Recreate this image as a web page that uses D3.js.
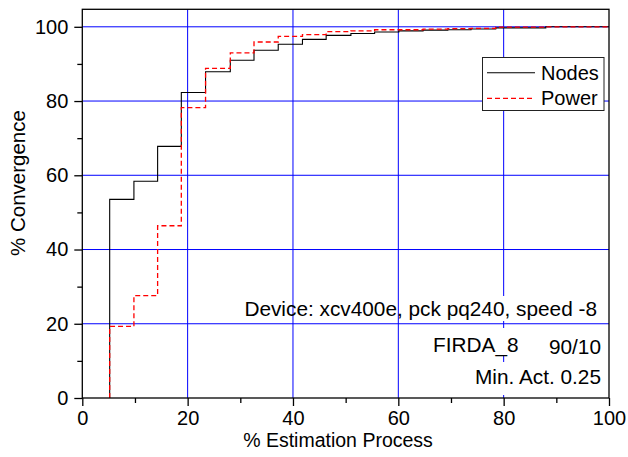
<!DOCTYPE html>
<html lang="en">
<head>
<meta charset="utf-8" />
<script src="https://d3js.org/d3.v7.min.js"></script>
<style>
  body { margin: 0; background: #fff; }
  text { font-family: Arial, "Liberation Sans", sans-serif; fill: #000; }
</style>
</head>
<body>
<script>
// step positions (% estimation process) and the value held from each one on
const stepX   = [5.2, 9.8, 14.3, 18.8, 23.4, 28.1, 32.6, 37.2, 41.8, 46.3, 51.0, 55.5, 60.1, 64.7, 69.4, 73.8, 78.5, 88.0, 100];
const nodesY  = [53.5, 58.4, 67.8, 82.3, 87.9, 91.0, 93.7, 95.3, 96.6, 97.7, 98.2, 98.6, 98.9, 99.1, 99.2, 99.4, 99.7, 100, 100];
const powerY  = [19.3, 27.6, 46.4, 78.2, 88.8, 93.0, 95.9, 97.4, 97.9, 98.7, 98.9, 99.2, 99.2, 99.4, 99.5, 99.6, 99.9, 100, 100];
const xTicks = [0, 20, 40, 60, 80, 100];
const yTicks = [0, 20, 40, 60, 80, 100];
const minorTicks = [10, 30, 50, 70, 90];
const seriesNames = ["Nodes", "Power"];
const notes = ["Device: xcv400e, pck pq240, speed -8", "FIRDA_8", "90/10", "Min. Act. 0.25"];

const w = 628, h = 457;
const padL = 82.3, padR = 609, padT = 9.3, padB = 398;

const x = d3.scaleLinear().domain([0, 100]).range([padL, padR]);
const y = d3.scaleLinear().domain([0, 100]).range([padB, 26.8]);

const svg = d3.select("body").append("svg")
  .attr("width", w)
  .attr("height", h);

// grid
svg.append("g").selectAll("line")
  .data(xTicks.slice(1, -1))
  .join("line")
  .attr("x1", d => x(d)).attr("x2", d => x(d))
  .attr("y1", padT).attr("y2", padB)
  .attr("stroke", "#0000ff").attr("stroke-width", 1);

svg.append("g").selectAll("line")
  .data(yTicks.slice(1))
  .join("line")
  .attr("x1", padL).attr("x2", padR)
  .attr("y1", d => y(d)).attr("y2", d => y(d))
  .attr("stroke", "#0000ff").attr("stroke-width", 1);

// white boxes behind the annotation lines
const boxes = [[440, 296, 160, 25], [430, 328, 175, 27], [470, 362, 135, 33]];
svg.append("g").selectAll("rect")
  .data(boxes)
  .join("rect")
  .attr("x", d => d[0]).attr("y", d => d[1])
  .attr("width", d => d[2]).attr("height", d => d[3])
  .attr("fill", "#fff");

// series
const pts = ys => [[stepX[0], 0]].concat(stepX.map((d, i) => [d, ys[i]]));
const line = d3.line()
  .x(d => x(d[0]))
  .y(d => y(d[1]))
  .curve(d3.curveStepAfter);

svg.append("path")
  .attr("d", line(pts(nodesY)))
  .attr("fill", "none")
  .attr("stroke", "#000")
  .attr("stroke-width", 1.1);

svg.append("path")
  .attr("d", line(pts(powerY)))
  .attr("fill", "none")
  .attr("stroke", "#ff0000")
  .attr("stroke-width", 1.3)
  .attr("stroke-dasharray", "5,3");

// axes
const xAxis = d3.axisBottom(x).tickValues(xTicks).tickSize(8).tickPadding(5);
const xMinor = d3.axisBottom(x).tickValues(minorTicks).tickSize(5).tickFormat("");
const yAxis = d3.axisLeft(y).tickValues(yTicks).tickSize(8).tickPadding(6);
const yMinor = d3.axisLeft(y).tickValues(minorTicks).tickSize(5).tickFormat("");

function styleAxis(g) {
  g.select(".domain").remove();
  g.selectAll("line").attr("stroke", "#000").attr("stroke-width", 1.3);
  g.selectAll("text").style("font-size", "20px").attr("fill", "#000")
    .style("font-family", "Arial, 'Liberation Sans', sans-serif");
}

svg.append("g").attr("transform", `translate(0,${padB})`).call(xAxis).call(styleAxis);
svg.append("g").attr("transform", `translate(0,${padB})`).call(xMinor).call(styleAxis);
svg.append("g").attr("transform", `translate(${padL},0)`).call(yAxis).call(styleAxis);
svg.append("g").attr("transform", `translate(${padL},0)`).call(yMinor).call(styleAxis);

// frame
svg.append("rect")
  .attr("x", padL).attr("y", padT)
  .attr("width", padR - padL).attr("height", padB - padT)
  .attr("fill", "none")
  .attr("stroke", "#000")
  .attr("stroke-width", 1.3);

// axis titles
svg.append("text")
  .attr("x", 338).attr("y", 447)
  .attr("text-anchor", "middle")
  .style("font-size", "19.5px")
  .text("% Estimation Process");

svg.append("text")
  .attr("transform", "translate(24.5,183) rotate(-90)")
  .attr("text-anchor", "middle")
  .style("font-size", "20.5px")
  .text("% Convergence");

// legend
const legend = svg.append("g");
legend.append("rect")
  .attr("x", 482.5).attr("y", 57.5)
  .attr("width", 121.5).attr("height", 53)
  .attr("fill", "#fff")
  .attr("stroke", "#222").attr("stroke-width", 1);

const legY = [72.7, 98.3];
legend.selectAll("line")
  .data(seriesNames)
  .join("line")
  .attr("x1", 487).attr("x2", 535)
  .attr("y1", (d, i) => legY[i]).attr("y2", (d, i) => legY[i])
  .attr("stroke", (d, i) => i ? "#ff0000" : "#000")
  .attr("stroke-width", (d, i) => i ? 1.3 : 1.1)
  .attr("stroke-dasharray", (d, i) => i ? "5,3" : null);

legend.selectAll("text")
  .data(seriesNames)
  .join("text")
  .attr("x", 541)
  .attr("y", (d, i) => legY[i] + 7)
  .style("font-size", "20px")
  .text(d => d);

// annotations
const noteSize = "20.8px";
svg.append("text").attr("x", 597).attr("y", 316).attr("text-anchor", "end")
  .style("font-size", noteSize).text(notes[0]);
svg.append("text").attr("x", 433).attr("y", 352)
  .style("font-size", noteSize).text(notes[1]);
svg.append("text").attr("x", 601).attr("y", 354).attr("text-anchor", "end")
  .style("font-size", noteSize).text(notes[2]);
svg.append("text").attr("x", 601).attr("y", 383.5).attr("text-anchor", "end")
  .style("font-size", noteSize).text(notes[3]);
</script>
</body>
</html>
